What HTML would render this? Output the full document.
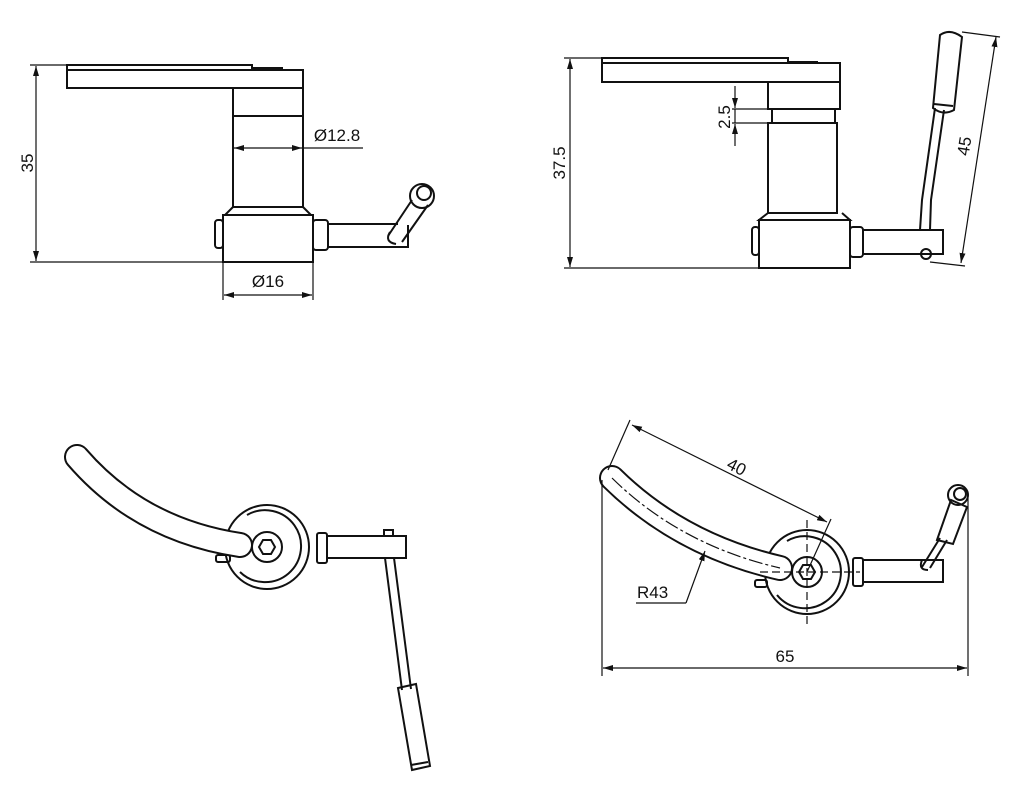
<!DOCTYPE html>
<html><head><meta charset="utf-8"><style>
html,body{margin:0;padding:0;background:#fff;}
svg{display:block;}
text{font-family:"Liberation Sans",sans-serif;font-size:17px;fill:#111;}
</style></head><body>
<svg width="1024" height="808" viewBox="0 0 1024 808" xmlns="http://www.w3.org/2000/svg">
<defs>
<marker id="a" viewBox="0 0 10 6" refX="10" refY="3" markerWidth="10" markerHeight="6" orient="auto-start-reverse" markerUnits="userSpaceOnUse"><path d="M0,0 L10,3 L0,6 z" fill="#111"/></marker>
</defs>
<g fill="none" stroke="#111" stroke-width="2">
<!-- VIEW 1 -->
<rect x="67" y="65" width="185" height="5"/>
<rect x="67" y="70" width="236" height="18"/>
<line x1="252" y1="68" x2="283" y2="68"/>
<rect x="233" y="88" width="70" height="119"/>
<line x1="233" y1="116" x2="303" y2="116"/>
<path d="M233,207 L225,215 L311,215 L303,207"/>
<rect x="223" y="215" width="90" height="47"/>
<rect x="215" y="220" width="8" height="28" rx="3"/>
<rect x="313" y="220" width="15" height="30" rx="3"/>
<path d="M328,224 L398,224 M328,247 L408,247 L408,225"/>
<path d="M388,236 L412,200 M402,242 L428,205"/>
<path d="M390,232 Q384,242 396,244"/>
<circle cx="422" cy="196" r="12"/>
<circle cx="424" cy="193" r="7"/>
</g>
<g stroke="#111" stroke-width="1.2" fill="none">
<line x1="30" y1="65" x2="67" y2="65"/>
<line x1="30" y1="262" x2="223" y2="262"/>
<line x1="36" y1="66" x2="36" y2="261" marker-start="url(#a)" marker-end="url(#a)"/>
<line x1="234" y1="148" x2="302" y2="148" marker-start="url(#a)" marker-end="url(#a)"/>
<line x1="303" y1="148" x2="363" y2="148"/>
<line x1="223" y1="262" x2="223" y2="300"/>
<line x1="313" y1="262" x2="313" y2="300"/>
<line x1="224" y1="295" x2="312" y2="295" marker-start="url(#a)" marker-end="url(#a)"/>
</g>
<text x="0" y="0" transform="translate(33,163) rotate(-90)" text-anchor="middle">35</text>
<text x="337" y="141" text-anchor="middle">Ø12.8</text>
<text x="268" y="287" text-anchor="middle">Ø16</text>

<!-- VIEW 2 -->
<g fill="none" stroke="#111" stroke-width="2">
<rect x="602" y="58" width="186" height="5"/>
<rect x="602" y="63" width="238" height="19"/>
<line x1="788" y1="62" x2="818" y2="62"/>
<rect x="768" y="82" width="72" height="27"/>
<rect x="772" y="109" width="63" height="14"/>
<rect x="768" y="123" width="69" height="90"/>
<path d="M768,213 L759,220 L850,220 L842,213"/>
<rect x="759" y="220" width="91" height="48"/>
<rect x="752" y="227" width="7" height="28" rx="3"/>
<rect x="850" y="227" width="13" height="30" rx="3"/>
<path d="M863,230 L943,230 L943,254 L863,254"/>
<circle cx="926" cy="254" r="5"/>
<path d="M920,230 L922,200 L935,108 M930,230 L931,200 L944,110"/>
<path d="M933,108 L940,35 Q950,28 962,37 L954,110 Q943,116 933,108 Z"/>
<line x1="934" y1="104" x2="953" y2="106"/>
</g>
<g stroke="#111" stroke-width="1.2" fill="none">
<line x1="564" y1="58" x2="602" y2="58"/>
<line x1="564" y1="268" x2="759" y2="268"/>
<line x1="570" y1="59" x2="570" y2="267" marker-start="url(#a)" marker-end="url(#a)"/>
<line x1="732" y1="109" x2="768" y2="109"/>
<line x1="732" y1="123" x2="768" y2="123"/>
<line x1="735" y1="86" x2="735" y2="108" marker-end="url(#a)"/>
<line x1="735" y1="146" x2="735" y2="124" marker-end="url(#a)"/>
<line x1="735" y1="109" x2="735" y2="123"/>
<line x1="962" y1="32" x2="1000" y2="37"/>
<line x1="930" y1="262" x2="965" y2="266"/>
<line x1="996" y1="37" x2="961" y2="263" marker-start="url(#a)" marker-end="url(#a)"/>
</g>
<text transform="translate(730,117) rotate(-90)" text-anchor="middle">2.5</text>
<text transform="translate(565,163) rotate(-90)" text-anchor="middle">37.5</text>
<text transform="translate(970,147) rotate(-81)" text-anchor="middle">45</text>

<!-- VIEW 3 -->
<g fill="none" stroke="#111" stroke-width="2">
<circle cx="267" cy="547" r="42"/>
<path d="M247,515 A36,36 0 1 1 240,572"/>
<rect x="317" y="533" width="10" height="30" rx="2"/>
<path d="M327,536 L406,536 L406,558 L327,558"/>
<rect x="384" y="530" width="9" height="6"/>
<path d="M385,558 L402,690 M394,558 L411,689"/>
<path d="M398,688 L416,684 L430,766 L412,770 Z"/>
<line x1="411" y1="765" x2="428" y2="762"/>
<rect x="216" y="555" width="14" height="7" rx="2"/>
</g>
<path d="M77,457 Q140,530 240,545" fill="none" stroke="#111" stroke-width="26" stroke-linecap="round"/>
<path d="M77,457 Q140,530 240,545" fill="none" stroke="#fff" stroke-width="22" stroke-linecap="round"/>
<g fill="none" stroke="#111" stroke-width="2">
<circle cx="267" cy="547" r="15"/>
<polygon points="275,547 271,554 263,554 259,547 263,540 271,540"/>
</g>

<!-- VIEW 4 -->
<g fill="none" stroke="#111" stroke-width="2">
<circle cx="807" cy="572" r="42"/>
<path d="M787,541 A36,36 0 1 1 777,595"/>
<rect x="853" y="558" width="10" height="28" rx="2"/>
<path d="M863,560 L943,560 L943,582 L863,582"/>
<rect x="755" y="580" width="12" height="7" rx="2"/>
<path d="M922,567 L940,538 M930,568 L947,540"/>
<path d="M922,560 Q918,570 928,570"/>
<path d="M937,540 L951,500 L967,507 L953,544 Z"/>
<circle cx="958" cy="495" r="10"/>
<circle cx="960" cy="494" r="6"/>
</g>
<path d="M612,478 Q680,545 780,568" fill="none" stroke="#111" stroke-width="26" stroke-linecap="round"/>
<path d="M612,478 Q680,545 780,568" fill="none" stroke="#fff" stroke-width="22" stroke-linecap="round"/>
<g fill="none" stroke="#111" stroke-width="1.2">
<path d="M612,478 Q680,545 780,568" stroke-dasharray="14,3,3,3"/>
<line x1="807" y1="520" x2="807" y2="625" stroke-dasharray="8,4"/>
<line x1="760" y1="572" x2="860" y2="572" stroke-dasharray="8,4"/>
</g>
<g fill="none" stroke="#111" stroke-width="2">
<circle cx="807" cy="572" r="15"/>
<polygon points="815,572 811,579 803,579 799,572 803,565 811,565"/>
</g>
<g stroke="#111" stroke-width="1.2" fill="none">
<line x1="608" y1="470" x2="630" y2="420"/>
<line x1="807" y1="572" x2="831" y2="519"/>
<line x1="632" y1="425" x2="827" y2="522" marker-start="url(#a)" marker-end="url(#a)"/>
<line x1="686" y1="603" x2="705" y2="551" marker-end="url(#a)"/>
<line x1="636" y1="603" x2="686" y2="603"/>
<line x1="602" y1="480" x2="602" y2="676"/>
<line x1="968" y1="498" x2="968" y2="676"/>
<line x1="603" y1="668" x2="967" y2="668" marker-start="url(#a)" marker-end="url(#a)"/>
</g>
<text transform="translate(734,472) rotate(27)" text-anchor="middle">40</text>
<text x="637" y="598">R43</text>
<text x="785" y="662" text-anchor="middle">65</text>
</svg>
</body></html>
